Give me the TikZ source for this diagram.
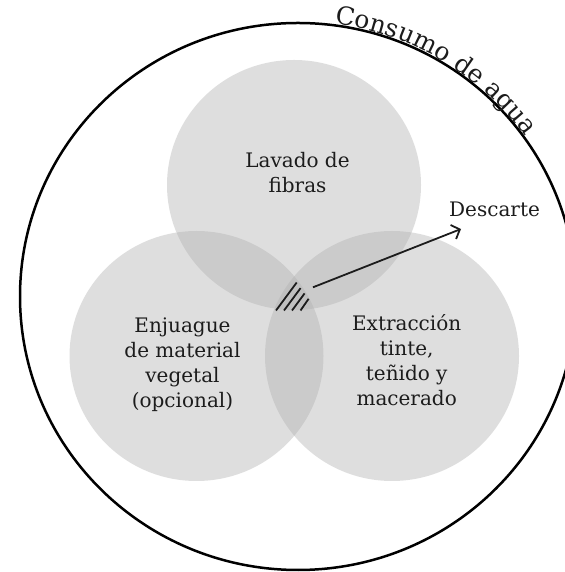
\documentclass[tikz,border=0pt]{standalone}
\usepackage{fontspec}
\setmainfont{DejaVu Serif}
\usetikzlibrary{arrows.meta,calc,decorations.text}

\definecolor{venn}{RGB}{177,177,177}
\definecolor{ink}{RGB}{28,28,28}

\begin{document}
\begin{tikzpicture}
[
	x=1pt,y=1pt,
	zona/.style={fill=venn,fill opacity=0.42},
	etiqueta/.style={align=center,text=ink,inner sep=0pt,font=\fontsize{20}{25}\selectfont},
	flecha/.style={-{Straight Barb[length=7pt,width=15pt]},line width=1.8pt,draw=ink},
	rayado/.style={line width=1.8pt,draw=ink}
]

	\useasboundingbox (0,0) rectangle (564,572);

	% zonas
	\fill[zona] (294,387) ellipse [x radius=127,y radius=125];
	\fill[zona] (196.5,216) ellipse [x radius=127,y radius=125];
	\fill[zona] (392,216) ellipse [x radius=127,y radius=125];

	% borde exterior
	\draw[line width=2.5pt] (298,275.5) ellipse [x radius=278,y radius=273.5];
	\path[decorate,decoration={text along path,text align=left,raise=1.5pt,
		text={|\fontsize{25}{25}\selectfont\color{ink}|Consumo de agua}}]
		(298,275.5) ++(82.5:278 and 273.5)
		arc [start angle=82.5,end angle=10,x radius=278,y radius=273.5];

	% textos
	\node[etiqueta] (lavado) at (297.5,399.1) {Lavado de\\fibras};
	\node[etiqueta] (enjuague) at (182.5,206.8) {Enjuague\\de material\\vegetal\\(opcional)};
	\node[etiqueta] (extraccion) at (406.7,211.8) {Extracción\\tinte,\\teñido y\\macerado};
	\node[etiqueta,anchor=base west] (descarte) at (449,355) {Descarte};

	% rayado
	\draw[rayado] (276,261.5) -- (296.7,289.5);
	\draw[rayado] (284,261.5) -- (300.6,283.9);
	\draw[rayado] (292,261.5) -- (304.6,278.6);
	\draw[rayado] (300.5,261.5) -- (308.6,273.2);

	% salida
	\coordinate (salida) at (313,284.7);
	\draw[flecha] (salida) -- ($(descarte.base west)+(12,-12)$);

\end{tikzpicture}
\end{document}
